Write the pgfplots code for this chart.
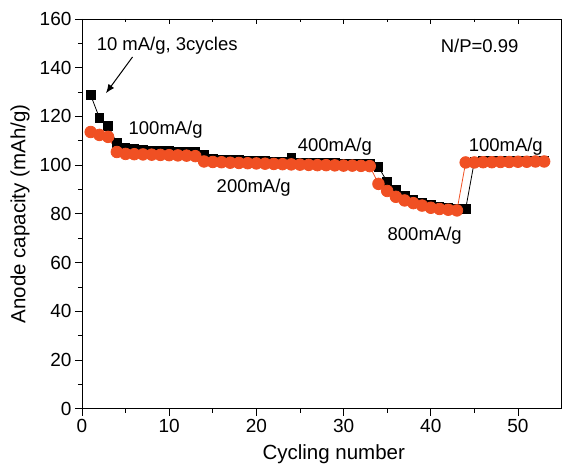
\documentclass[border=0pt]{standalone}
\usepackage{fontspec}
\setmainfont{Liberation Sans}
\usepackage{pgfplots}
\pgfplotsset{compat=1.18}
\usetikzlibrary{arrows.meta}

\definecolor{redorange}{RGB}{240,80,35}

\pgfplotstableread{
x y
1 128.8
2 119.4
3 116.1
4 109.1
5 107.0
6 106.6
7 106.3
8 106.1
9 105.9
10 105.8
11 105.7
12 105.6
13 105.5
14 104.2
15 102.6
16 102.4
17 102.2
18 102.1
19 101.9
20 101.8
21 101.7
22 101.5
23 101.4
24 102.9
25 101.2
26 101.1
27 101.0
28 100.9
29 100.8
30 100.7
31 100.6
32 100.5
33 100.4
34 99.3
35 93.1
36 90.0
37 87.6
38 85.8
39 84.6
40 83.6
41 83.0
42 82.6
43 82.3
44 82.0
45 101.6
46 101.7
47 101.7
48 101.8
49 101.8
50 101.9
51 101.9
52 102.0
53 102.0
}\blackdata

\pgfplotstableread{
x y
1 113.6
2 112.4
3 111.6
4 105.4
5 104.6
6 104.5
7 104.4
8 104.3
9 104.2
10 104.1
11 104.0
12 103.9
13 103.7
14 101.5
15 101.3
16 101.2
17 101.0
18 100.9
19 100.8
20 100.7
21 100.6
22 100.5
23 100.4
24 100.3
25 100.2
26 100.1
27 100.0
28 100.0
29 99.9
30 99.8
31 99.8
32 99.7
33 99.6
34 92.3
35 89.4
36 87.0
37 85.5
38 84.4
39 83.4
40 82.5
41 82.0
42 81.7
43 81.4
44 101.1
45 101.1
46 101.2
47 101.2
48 101.3
49 101.3
50 101.4
51 101.4
52 101.5
53 101.5
}\reddata

\begin{document}
\begin{tikzpicture}
\pgfplotsset{every axis/.append style={
    scale only axis, width=480pt, height=390pt,
    xmin=0, xmax=55, ymin=0, ymax=160,
    tick label style={font=\fontsize{19}{22}\selectfont},
    /pgf/number format/assume math mode=true,
}}
\begin{axis}[
    xtick={0,10,20,30,40,50}, minor xtick={5,15,25,35,45},
    ytick={0,20,40,60,80,100,120,140,160},
    minor ytick={10,30,50,70,90,110,130,150},
    xtick pos=bottom, ytick pos=left,
    tick align=outside,
    major tick length=7pt, minor tick length=4pt,
    tick style={black, line width=0.8pt},
    axis line style={line width=0.8pt},
    label style={font=\fontsize{20.5}{24}\selectfont},
    xlabel={Cycling number},
    ylabel={Anode capacity (mAh/g)},
    xlabel style={at={(rel axis cs:0.525,-0.118)}, anchor=center},
    ylabel style={at={(rel axis cs:-0.1292,0.5)}, anchor=center, rotate=0},
    clip=false,
]
\addplot[black, line width=0.8pt, mark=square*, mark size=4.3pt,
    mark options={fill=black}] table[x=x, y=y] {\blackdata};
\addplot[redorange, line width=0.8pt, mark=*, mark size=5.8pt,
    mark options={fill=redorange, draw=redorange}] table[x=x, y=y] {\reddata};

\begin{scope}[font=\fontsize{18.5}{22}\selectfont]
\node[anchor=west] at (axis cs:1.3,149) {10 mA/g, 3cycles};
\draw[-{Latex[length=9pt,width=7pt]}, line width=1pt] (axis cs:5.8,144.4) -- (axis cs:2.75,129.5);
\node at (axis cs:9.6,114.5) {100mA/g};
\node at (axis cs:19.7,90.7) {200mA/g};
\node at (axis cs:29.0,107.5) {400mA/g};
\node at (axis cs:39.3,71) {800mA/g};
\node at (axis cs:48.6,107.5) {100mA/g};
\node at (axis cs:45.6,149) {N/P=0.99};
\end{scope}
\path (rel axis cs:0,0) ++(-82pt,-62pt);
\path (rel axis cs:1,1) ++(0pt,19pt);
\end{axis}
\begin{axis}[
    axis x line*=top, axis y line=none,
    xtick={0,10,20,30,40,50}, minor xtick={5,15,25,35,45},
    xticklabels={}, tick align=inside,
    major tick length=5pt, minor tick length=3pt,
    tick style={black, line width=0.8pt},
    axis line style={line width=0.8pt},
]
\end{axis}
\end{tikzpicture}
\end{document}
